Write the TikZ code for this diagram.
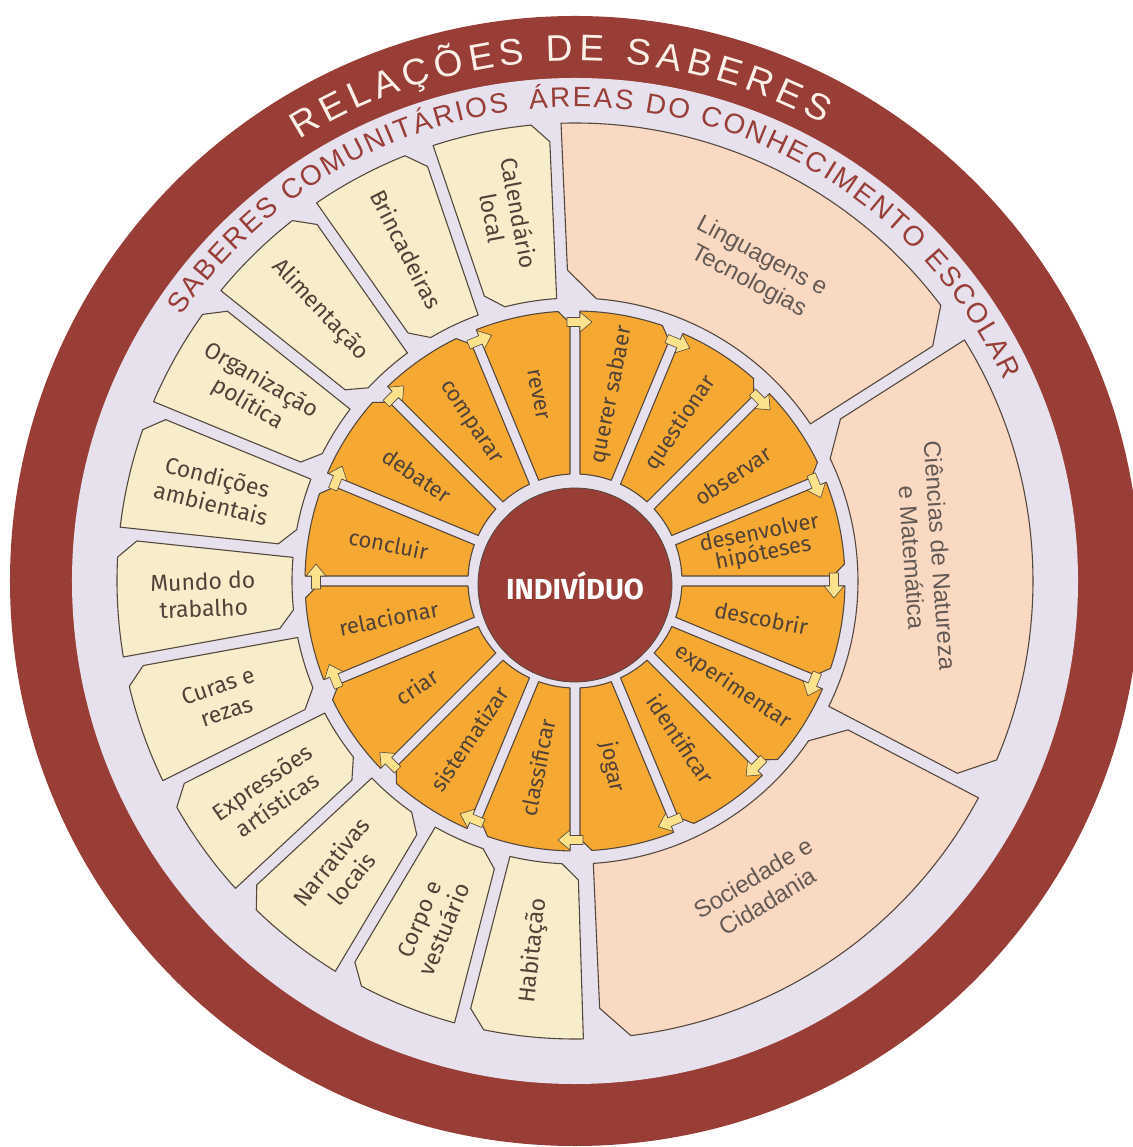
\documentclass[tikz,border=0pt]{standalone}
\usepackage{fontspec}
\setmainfont{Fira Sans}
\newfontfamily\arialfont{Liberation Sans}
\newfontfamily\labfont{Fira Sans}
\usetikzlibrary{decorations.text}
\definecolor{cMaroon}{RGB}{152,62,55}
\definecolor{cLav}{RGB}{230,225,236}
\definecolor{cBeige}{RGB}{248,237,202}
\definecolor{cPink}{RGB}{250,217,194}
\definecolor{cOrange}{RGB}{246,169,50}
\definecolor{cArrow}{RGB}{252,226,140}
\definecolor{cLine}{RGB}{85,72,62}
\definecolor{cLab}{RGB}{80,66,56}
\definecolor{cPLab}{RGB}{100,90,85}
\definecolor{cCream}{RGB}{250,240,232}
\newcommand{\ringtab}[8]{%
  \pgfmathsetmacro\rtdO{(#8/2)/(#5)*57.2958}%
  \pgfmathsetmacro\rtdI{(#8/2)/(#4)*57.2958}%
  \pgfmathsetmacro\rtdOc{(#8/2)/(#5-#6)*57.2958}%
  \pgfmathsetmacro\rtdIc{(#8/2)/(#4+#7)*57.2958}%
  \pgfmathsetmacro\rtcO{#6/(#5)*57.2958}%
  \pgfmathsetmacro\rtcI{#7/(#4)*57.2958}%
  \pgfmathsetmacro\rtaA{#2+\rtdO+\rtcO}%
  \pgfmathsetmacro\rtaB{#3-\rtdO}%
  \pgfmathsetmacro\rtaC{#3-\rtdIc}%
  \pgfmathsetmacro\rtaD{#3-\rtdI-\rtcI}%
  \pgfmathsetmacro\rtaE{#2+\rtdI}%
  \pgfmathsetmacro\rtaF{#2+\rtdOc}%
  \pgfmathsetmacro\rtrA{#4+#7}%
  \pgfmathsetmacro\rtrB{#5-#6}%
  \draw[#1] (\rtaA:#5) arc[start angle=\rtaA, end angle=\rtaB, radius=#5]
     -- (\rtaC:\rtrA) -- (\rtaD:#4) arc[start angle=\rtaD, end angle=\rtaE, radius=#4]
     -- (\rtaF:\rtrB) -- cycle;
}
\begin{document}
\begin{tikzpicture}[x=1pt,y=1pt,
  beigebox/.style={fill=cBeige, draw=cLine, line width=1.1pt, line join=round},
  pinkbox/.style={fill=cPink, draw=cLine, line width=1.1pt, line join=round},
  orangebox/.style={fill=cOrange, draw=cLine, line width=1.1pt, line join=round},
  arrowsty/.style={fill=cArrow, draw=cLine, line width=0.6pt, line join=round},
  olab/.style={font=\labfont\fontsize{22}{21}\selectfont, text=cLab, align=center, inner sep=0pt},
  blab/.style={font=\labfont\fontsize{23}{27}\selectfont, text=cLab, align=center, inner sep=0pt},
  plab/.style={font=\arialfont\fontsize{24}{28}\selectfont, text=cPLab, align=center, inner sep=0pt}]
\useasboundingbox (-575,-566) rectangle (557,581);
\fill[white] (-575,-566) rectangle (557,581);
\fill[cMaroon] (0,0) circle[radius=565];
\fill[cLav] (0,0) circle[radius=503];
% ring titles
\path[decorate, decoration={text along path, text align={fit to path},
  text={|\arialfont\fontsize{37}{37}\selectfont\color{cCream}|RELAÇÕES DE SABERES}}]
  (122:520) arc[start angle=122, end angle=61.5, radius=520];
\path[decorate, decoration={text along path, text align={fit to path},
  text={|\arialfont\fontsize{28}{28}\selectfont\color{cMaroon}|SABERES COMUNITÁRIOS}}]
  (146:474) arc[start angle=146, end angle=98, radius=474];
\path[decorate, decoration={text along path, text align={fit to path},
  text={|\arialfont\fontsize{28}{28}\selectfont\color{cMaroon}|ÁREAS DO CONHECIMENTO ESCOLAR}}]
  (95.5:474) arc[start angle=95.5, end angle=25, radius=474];
% school knowledge areas
\ringtab{pinkbox}{32.5}{92.5}{283}{458}{30}{28}{12}
\ringtab{pinkbox}{-27.5}{32.5}{283}{458}{30}{28}{12}
\ringtab{pinkbox}{-87.5}{-27.5}{283}{458}{30}{28}{12}
\node[plab, rotate=-28] (lt) at (60:360) {Linguagens e\\Tecnologias};
\node[plab, rotate=-86] (cn) at (4:352) {Ciências de Natureza\\e Matemática};
\node[plab, rotate=31] (sc) at (-59:360) {Sociedade e\\Cidadania};
% community knowledge boxes
\foreach \k in {0,...,10}{
  \ringtab{beigebox}{92.5+16.3*\k}{108.8+16.3*\k}{283}{458}{18}{16}{12}
}
\foreach \k/\nm/\txt in {0/cal/{Calendário\\local}, 1/bri/{Brincadeiras}, 2/ali/{Alimentação},
  3/org/{Organização\\política}, 4/amb/{Condições\\ambientais}, 5/mun/{Mundo do\\trabalho},
  6/cur/{Curas e\\rezas}, 7/exp/{Expressões\\artísticas}, 8/nar/{Narrativas\\locais},
  9/cor/{Corpo e\\vestuário}, 10/hab/{Habitação}}{
  \pgfmathsetmacro\ph{100.65+16.3*\k}
  \node[blab, rotate=\ph-180] (\nm) at (\ph:372) {\txt};
}
% orange process ring
\foreach \i in {0,...,15}{
  \ringtab{orangebox}{67.5-22.5*\i}{90-22.5*\i}{107}{270}{12}{0}{10}
}
\foreach \i/\nm/\txt in {0/qs/{querer sabaer}, 1/qu/{questionar}, 2/ob/{observar},
  3/dh/{desenvolver\\hipóteses}, 4/dc/{descobrir}, 5/ex/{experimentar}, 6/id/{identificar},
  7/jo/{jogar}, 8/cl/{classificar}, 9/si/{sistematizar}, 10/cr/{criar}, 11/re/{relacionar},
  12/co/{concluir}, 13/db/{debater}, 14/cp/{comparar}, 15/rv/{rever}}{
  \pgfmathsetmacro\ph{78.75-22.5*\i}
  \pgfmathsetmacro\rot{\i<8 ? \ph : \ph+180}
  \node[olab, rotate=\rot] (\nm) at (\ph:190) {\txt};
}
\foreach \i in {0,...,15}{
  \pgfmathsetmacro\tb{90-22.5*\i}
  \begin{scope}[shift={(\tb:259)}, rotate=\tb-90]
    \draw[arrowsty] (-8,-4.5) -- (5,-4.5) -- (5,-10) -- (17,0) -- (5,10) -- (5,4.5) -- (-8,4.5) -- cycle;
  \end{scope}
}
% centre
\fill[cMaroon, draw=cLine, line width=0.8pt] (0,-4) circle[radius=97];
\node[font=\labfont\bfseries\fontsize{29}{29}\selectfont, text=white, inner sep=0pt] (ind) at (0,-5) {INDIVÍDUO};
\end{tikzpicture}
\end{document}
